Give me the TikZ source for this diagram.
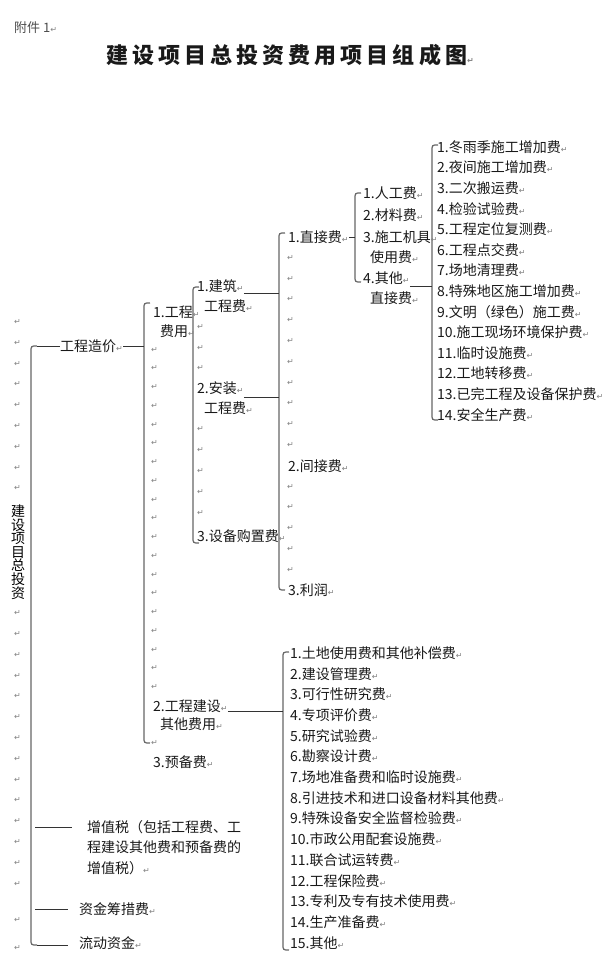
\documentclass[tikz,border=0pt]{standalone}
\usepackage{fontspec}
\setmainfont{Noto Sans CJK SC}
\newfontfamily\markfont{DejaVu Sans}
\usetikzlibrary{calc}

\newcommand\retmark{{\markfont\fontsize{8}{8}\selectfont\color{black!50}↵}}
\newcommand\wordbrace[3]{\draw[brace] (#1+6,#2) .. controls (#1,#2) .. (#1,#2+6) -- (#1,#3-6) .. controls (#1,#3) .. (#1+6,#3);}

\tikzset{
  item/.style={anchor=west, inner sep=0pt, text=black!90, font=\fontsize{14}{14}\selectfont},
  retnode/.style={anchor=west, inner sep=0pt},
  brace/.style={draw=black!60, line width=1.2pt},
  link/.style={draw=black!80, line width=0.9pt},
}

\begin{document}
\begin{tikzpicture}[x=1pt,y=-1pt]
  \useasboundingbox (0,0) rectangle (606,976);
  \node[item, font=\fontsize{13}{13}\selectfont, text=black!70] (fj) at (14,28) {附件 1\retmark};
  \node[item, font=\fontsize{22}{22}\selectfont\bfseries\addfontfeatures{LetterSpace=18.5}] (title) at (106,55) {建设项目总投资费用项目组成图\retmark};

  % brackets
  \wordbrace{31}{346}{945}
  \wordbrace{144}{303}{743}
  \wordbrace{193}{287}{543}
  \wordbrace{279}{233}{590}
  \wordbrace{355}{193}{282}
  \wordbrace{432}{145}{420}
  \wordbrace{283}{652}{950}

  % left column
  \node[anchor=center, inner sep=0pt, align=center, font=\fontsize{14}{13.6}\selectfont] (ztz) at (18,552) {建\\设\\项\\目\\总\\投\\资};
  \foreach \k in {0,...,8,14,15,...,27}
    \node[retnode] at (14,{322+20.8*\k}) {\retmark};
  \foreach \y in {920,948}
    \node[retnode] at (14,\y) {\retmark};

  \node[item] (gczj) at (60,346) {工程造价\retmark};
  \node[item] (zzs1) at (87,827) {增值税（包括工程费、工};
  \node[item] (zzs2) at (87,847) {程建设其他费和预备费的};
  \node[item] (zzs3) at (87,868) {增值税）\retmark};
  \node[item] (zjcc) at (79,909) {资金筹措费\retmark};
  \node[item] (ldzj) at (79,943) {流动资金\retmark};

  \coordinate (b1a) at (37,346);
  \coordinate (b1b) at (35,827);
  \coordinate (b1c) at (35,909);
  \coordinate (b1d) at (37,945);
  \draw[link] (b1a) -- (gczj.west);
  \draw[link] (b1b) -- ([xshift=-15pt]zzs1.west);
  \draw[link] (b1c) -- ([xshift=-11pt]zjcc.west |- b1c);
  \draw[link] (b1d) -- ([xshift=-11pt]ldzj.west |- b1d);

  % second column
  \coordinate (b2) at (144,346);
  \draw[link] (gczj.east) -- (b2);
  \node[item] (gcf1) at (153,312) {1.工程\retmark};
  \node[item] (gcf2) at (160,331) {费用\retmark};
  \foreach \k in {2,...,20}
    \node[retnode] at (151,{312+18.75*\k}) {\retmark};
  \node[item] (gcjs1) at (153,706) {2.工程建设\retmark};
  \node[item] (gcjs2) at (160,724) {其他费用\retmark};
  \node[retnode] at (151,743) {\retmark};
  \node[item] (ybf) at (153,762) {3.预备费\retmark};

  % third column
  \node[item] (jz1) at (197,286) {1.建筑\retmark};
  \node[item] (jz2) at (204,306) {工程费\retmark};
  \node[item] (az1) at (197,388) {2.安装\retmark};
  \node[item] (az2) at (204,408) {工程费\retmark};
  \node[item] (sbgz) at (197,536) {3.设备购置费\retmark};
  \foreach \y in {327,348,368,429,450,471,492,513}
    \node[retnode] at (197,\y) {\retmark};
  \coordinate (b4a) at (279,293);
  \coordinate (b4b) at (279,397);
  \draw[link] (jz1.east |- b4a) -- (b4a);
  \draw[link] (az1.east |- b4b) -- (b4b);

  % fourth column
  \node[item] (zjf) at (288,237) {1.直接费\retmark};
  \node[item] (jjf) at (288,466) {2.间接费\retmark};
  \node[item] (lr) at (288,590) {3.利润\retmark};
  \foreach \k in {1,...,10,12,13,...,16}
    \node[retnode] at (287,{237+20.8*\k}) {\retmark};
  \coordinate (b5) at (355,237);
  \draw[link] (zjf.east) -- (b5);

  % direct cost items
  \node[item] (rgf) at (363,193) {1.人工费\retmark};
  \node[item] (clf) at (363,215) {2.材料费\retmark};
  \node[item] (jj1) at (363,237) {3.施工机具\retmark};
  \node[item] (jj2) at (370,257) {使用费\retmark};
  \node[item] (qt1) at (363,278) {4.其他\retmark};
  \node[item] (qt2) at (370,298) {直接费\retmark};
  \coordinate (b6) at (432,286);
  \draw[link] (qt1.east |- b6) -- (b6);

  \foreach \t [count=\i] in {冬雨季施工增加费,夜间施工增加费,二次搬运费,检验试验费,工程定位复测费,工程点交费,场地清理费,特殊地区施工增加费,文明（绿色）施工费,施工现场环境保护费,临时设施费,工地转移费,已完工程及设备保护费,安全生产费}
    \node[item] (qz\i) at (437,{147+20.6*(\i-1)}) {\i.\t\retmark};

  % other construction costs
  \coordinate (b7) at (283,711);
  \draw[link] (gcjs1.east |- b7) -- (b7);
  \foreach \t [count=\i] in {土地使用费和其他补偿费,建设管理费,可行性研究费,专项评价费,研究试验费,勘察设计费,场地准备费和临时设施费,引进技术和进口设备材料其他费,特殊设备安全监督检验费,市政公用配套设施费,联合试运转费,工程保险费,专利及专有技术使用费,生产准备费,其他}
    \node[item] (qf\i) at (290,{653+20.7*(\i-1)}) {\i.\t\retmark};
\end{tikzpicture}
\end{document}
